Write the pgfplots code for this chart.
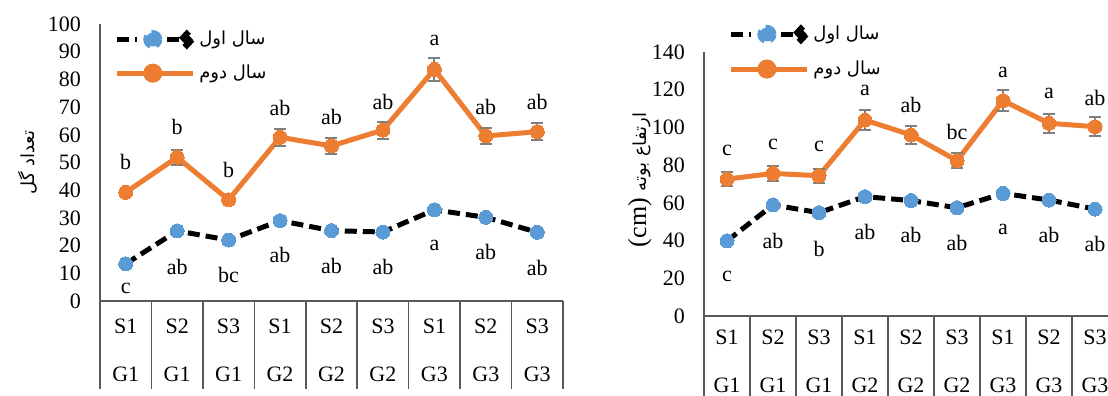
\documentclass[border=0pt]{standalone}
\usepackage{fontspec}
\setmainfont{Liberation Serif}
\newfontfamily\arabicfont[Script=Arabic]{DejaVu Sans}
\TeXXeTstate=1
\usepackage{pgfplots}
\pgfplotsset{compat=1.18}
\definecolor{oBlue}{HTML}{5B9BD5}
\definecolor{oOrange}{HTML}{ED7D31}
\definecolor{axgray}{HTML}{595959}
\definecolor{errgray}{HTML}{7F7F7F}

\pgfplotstableread{
x y e
1 39.2 1.2
2 51.9 2.7
3 36.5 1.2
4 59.1 3.0
5 56.0 2.8
6 61.7 3.1
7 83.6 4.1
8 59.6 2.8
9 61.1 3.0
}\orangeA
\pgfplotstableread{
x y
1 13.4
2 25.3
3 22.0
4 29.0
5 25.4
6 24.9
7 32.9
8 30.2
9 24.8
}\blueA
\pgfplotstableread{
x y l
1 50.3 b
2 63.0 b
3 47.3 b
4 69.6 ab
5 66.5 ab
6 72.0 ab
7 94.2 a
8 70.0 ab
9 72.0 ab
1 4.6 c
2 12.4 ab
3 9.4 bc
4 16.6 ab
5 12.7 ab
6 12.2 ab
7 20.2 a
8 17.6 ab
9 11.8 ab
}\lettersA
\pgfplotstableread{
x y e
1 72.6 3.8
2 75.6 4.0
3 74.4 3.8
4 103.9 5.3
5 96.0 4.8
6 82.4 4.1
7 114.2 5.7
8 102.2 5.1
9 100.4 5.0
}\orangeB
\pgfplotstableread{
x y
1 39.8
2 58.9
3 54.8
4 63.3
5 61.2
6 57.4
7 65.0
8 61.5
9 56.7
}\blueB
\pgfplotstableread{
x y l
1 88.0 c
2 91.2 c
3 90.0 c
4 119.5 a
5 111.9 ab
6 97.7 bc
7 129.2 a
8 118.0 a
9 115.4 ab
1 20.8 c
2 39.9 ab
3 35.4 b
4 44.5 ab
5 42.8 ab
6 38.5 ab
7 46.1 a
8 42.8 ab
9 38.0 ab
}\lettersB

\pgfplotsset{
 mystyle/.style={
  scale only axis, xmin=0.5, xmax=9.5, ymin=0,
  axis x line*=bottom, axis y line*=left,
  axis line style={axgray, line width=0.8pt},
  xtick={1,...,9},
  xticklabels={{S1\\[12pt]G1},{S2\\[12pt]G1},{S3\\[12pt]G1},{S1\\[12pt]G2},{S2\\[12pt]G2},{S3\\[12pt]G2},{S1\\[12pt]G3},{S2\\[12pt]G3},{S3\\[12pt]G3}},
  xticklabel style={align=center, font=\fontsize{11}{12}\selectfont},
  major tick length=0pt,
  minor xtick={0.5,1.5,...,9.5}, minor tick length=44pt, tick align=outside,
  minor x tick style={axgray, line width=0.8pt},
  ytick style={draw=none},
  yticklabel style={font=\fontsize{11}{12}\selectfont, xshift=-6pt},
  /pgf/number format/assume math mode=true,
  clip=false,
  every axis y label/.style={at={(axis description cs:-0.155,0.5)}, rotate=90, anchor=center},
  legend cell align=left,
 },
 orangeplot/.style={oOrange, line width=2.5pt, mark=*, mark size=3.5pt,
   mark options={solid, fill=oOrange, draw=oOrange, line width=0pt},
   legend image code/.code={
     \draw[oOrange, line width=2.5pt] (0pt,0pt) -- (38pt,0pt);
     \fill[oOrange] (18pt,0pt) circle (3.5pt);
   }},
 blueplot/.style={black, line width=2.5pt, dash pattern=on 6pt off 3pt, mark=*, mark size=3.5pt,
   mark options={solid, fill=oBlue, draw=oBlue, line width=0pt},
   legend image code/.code={
     \draw[black, line width=2.5pt] (0pt,0pt) -- (10pt,0pt);
     \draw[black, line width=2.5pt] (13.5pt,0pt) -- (22pt,0pt);
     \draw[black, line width=2.5pt] (25pt,0pt) -- (33pt,0pt);
     \fill[oBlue] (18pt,0pt) circle (3.5pt);
     \fill[black] (32pt,0pt) -- (35pt,3.2pt) -- (38pt,0pt) -- (35pt,-3.2pt) -- cycle;
   }},
 errs/.style={error bars/.cd, y dir=both, y explicit,
   error bar style={errgray, line width=1pt},
   error mark options={rotate=90, errgray, mark size=3pt, line width=1pt}},
 letters/.style={draw=none, mark=none, forget plot, nodes near coords, point meta=explicit symbolic,
   nodes near coords align=center,
   every node near coord/.append style={font=\fontsize{11}{12}\selectfont, black, inner sep=0pt}},
}

\begin{document}
\begin{tikzpicture}
\path[use as bounding box] (0,0) rectangle (554pt,198pt);
% left chart
\begin{axis}[mystyle,
  at={(50pt,47.5pt)}, anchor=south west,
  width=231.5pt, height=138.5pt,
  ymax=100, ytick={0,10,...,100},
  xticklabel style={yshift=-5.5pt},
  ylabel={{\arabicfont\fontsize{9}{10}\selectfont\beginR تعداد گل\endR}},
  legend style={draw=none, fill=none, at={(axis description cs:0.03,0.99)}, anchor=north west,
    font=\arabicfont\fontsize{9}{10}\selectfont, row sep=4.5pt, inner sep=0pt, cells={anchor=west}},
]
\addplot[blueplot] table[x=x,y=y] {\blueA};
\addlegendentry{\beginR سال اول\endR}
\addplot[orangeplot, errs] table[x=x,y=y,y error=e] {\orangeA};
\addlegendentry{\beginR سال دوم\endR}
\addplot[letters] table[x=x,y=y,meta=l] {\lettersA};
\end{axis}
% right chart
\begin{axis}[mystyle,
  at={(352pt,40pt)}, anchor=south west,
  width=207pt, height=132pt,
  ymax=140, ytick={0,20,...,140},
  xticklabel style={yshift=-3.5pt},
  ylabel={\fontsize{13}{14}\selectfont (cm) {\arabicfont\fontsize{9}{10}\selectfont\beginR ارتفاع بوته\endR}},
  every axis y label/.style={at={(axis description cs:-0.155,0.515)}, rotate=90, anchor=center},
  legend style={draw=none, fill=none, at={(axis description cs:0.058,1.115)}, anchor=north west,
    font=\arabicfont\fontsize{9}{10}\selectfont, row sep=5pt, inner sep=0pt, cells={anchor=west}},
]
\addplot[blueplot] table[x=x,y=y] {\blueB};
\addlegendentry{\beginR سال اول\endR}
\addplot[orangeplot, errs] table[x=x,y=y,y error=e] {\orangeB};
\addlegendentry{\beginR سال دوم\endR}
\addplot[letters] table[x=x,y=y,meta=l] {\lettersB};
\end{axis}
\end{tikzpicture}
\end{document}
